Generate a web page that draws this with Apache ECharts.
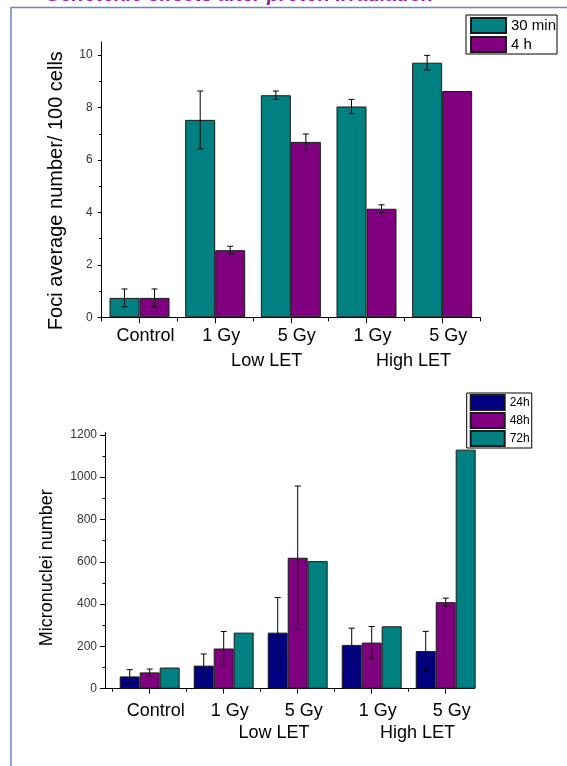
<!DOCTYPE html>
<html><head><meta charset="utf-8">
<script src="https://cdn.jsdelivr.net/npm/echarts@6/dist/echarts.min.js"></script>
<style>html,body{margin:0;padding:0;background:#fff}#c{width:567px;height:766px}</style>
</head><body><div id="c"></div>
<script>
// ---------- data ----------
const titleText = 'Genotoxic effects after proton irradiation';
const categories = ['Control', '1 Gy', '5 Gy', '1 Gy', '5 Gy'];
const groupLabels = ['Low LET', 'High LET'];

const fociTitle = 'Foci average number/ 100 cells';
const fociNames = ['30 min', '4 h'];
const foci30min = [0.74, 7.53, 8.47, 8.04, 9.71];
const foci30minErr = [0.34, 1.10, 0.16, 0.27, 0.28];
const foci4h = [0.74, 2.56, 6.69, 4.14, 8.63];
const foci4hErr = [0.34, 0.15, 0.30, 0.15, null];
const fociTicks = [0, 2, 4, 6, 8, 10];
const fociMinorTicks = [1, 3, 5, 7, 9];

const mnTitle = 'Micronuclei number';
const mnNames = ['24h', '48h', '72h'];
const mn24h = [58, 109, 265, 207, 178];
const mn24hErr = [32, 55, 166, 79, 93];
const mn48h = [77, 190, 619, 218, 409];
const mn48hErr = [16, 80, 339, 76, 19];
const mn72h = [100, 265, 603, 295, 1130];
const mnTicks = [0, 200, 400, 600, 800, 1000, 1200];
const mnMinorTicks = [100, 300, 500, 700, 900, 1100];

// ---------- layout / style ----------
const TEAL = '#008080', PURPLE = '#800080', NAVY = '#000080';
const FONT = '"Liberation Sans", Arial, sans-serif';
const G1 = {left: 101.7, top: 42, width: 378.3, height: 275.3};
const G2 = {left: 112.7, top: 432.7, width: 370, height: 256};
const G2F = {left: 105, top: 432.7, width: 369, height: 256};
const TOP_GAP = 0.207, BOT_GAP = 0.19;
const groupLabelPos = [2.18, 4.12];

const chart = echarts.init(document.getElementById('c'), null, {renderer: 'canvas'});

function errRender(nSeries, gapFrac, capW) {
  return function (params, api) {
    const i = api.value(0), v = api.value(1), e = api.value(2), s = api.value(3);
    const band = api.size([1, 0])[0];
    const barW = band * (1 - gapFrac) / nSeries;
    const c = api.coord([i, v]);
    const x = c[0] + (s - (nSeries - 1) / 2) * barW;
    const yHi = api.coord([i, v + e])[1];
    const yLo = api.coord([i, v - e])[1];
    const st = {stroke: '#000', lineWidth: 1};
    return {type: 'group', children: [
      {type: 'line', shape: {x1: x, y1: yHi, x2: x, y2: yLo}, style: st},
      {type: 'line', shape: {x1: x - capW / 2, y1: yHi, x2: x + capW / 2, y2: yHi}, style: st},
      {type: 'line', shape: {x1: x - capW / 2, y1: yLo, x2: x + capW / 2, y2: yLo}, style: st}
    ]};
  };
}
function errData(vals, errs, s) {
  const out = [];
  vals.forEach((v, i) => { if (errs[i] != null) out.push([i, v, errs[i], s]); });
  return out;
}
const barStyle = c => ({color: c, borderColor: '#1a1a1a', borderWidth: 1});

const lineBlack = {show: true, lineStyle: {color: '#000', width: 1}};
const noSplit = {show: false};
const plain = v => String(v);

const option = {
  animation: false,
  grid: [
    Object.assign({outerBoundsMode: 'none', containLabel: false}, G1),
    Object.assign({outerBoundsMode: 'none', containLabel: false}, G2),
    Object.assign({outerBoundsMode: 'none', containLabel: false}, G2F)
  ],
  xAxis: [
    {type: 'category', gridIndex: 0, position: 'bottom', data: categories, axisLine: lineBlack,
     axisTick: {show: true, alignWithLabel: true, length: 6, lineStyle: {color: '#000'}},
     axisLabel: {fontSize: 18, fontFamily: FONT, color: '#000', margin: 10, lineHeight: 18, padding: [0, 0, 0, 12], interval: 0},
     splitLine: noSplit},
    {type: 'category', gridIndex: 0, position: 'bottom', data: categories, axisLine: {show: false},
     axisTick: {show: true, length: 4, lineStyle: {color: '#000'}}, axisLabel: {show: false}, splitLine: noSplit},
    {type: 'category', gridIndex: 1, position: 'bottom', data: categories, axisLine: {show: false},
     axisTick: {show: true, alignWithLabel: true, length: 5, lineStyle: {color: '#000'}},
     axisLabel: {fontSize: 18, fontFamily: FONT, color: '#000', margin: 13, lineHeight: 18, padding: [0, 0, 0, 12], interval: 0},
     splitLine: noSplit},
    {type: 'value', gridIndex: 1, position: 'bottom', min: 0, max: categories.length, axisLine: {show: false},
     axisTick: {show: true, length: 3, customValues: categories.map((c, i) => i), lineStyle: {color: '#000'}},
     axisLabel: {show: false}, splitLine: noSplit},
    {type: 'value', gridIndex: 2, position: 'bottom', min: 0, max: 1, axisLine: lineBlack,
     axisTick: {show: false}, axisLabel: {show: false}, splitLine: noSplit}
  ],
  yAxis: [
    {type: 'value', gridIndex: 0, position: 'left', min: 0, max: 10.5, axisLine: lineBlack,
     axisTick: {show: true, length: 4, customValues: fociTicks, lineStyle: {color: '#000'}},
     axisLabel: {fontSize: 12, fontFamily: FONT, color: '#333', margin: 9, customValues: fociTicks, formatter: plain},
     splitLine: noSplit,
     name: fociTitle, nameLocation: 'middle', nameGap: 35,
     nameTextStyle: {fontSize: 20, fontFamily: FONT, color: '#000', padding: [0, 22, 0, 0]}},
    {type: 'value', gridIndex: 0, position: 'left', min: 0, max: 10.5, axisLine: {show: false},
     axisTick: {show: true, length: 2.5, customValues: fociMinorTicks, lineStyle: {color: '#000'}},
     axisLabel: {show: false}, splitLine: noSplit},
    {type: 'value', gridIndex: 1, position: 'left', min: 0, max: 1210, show: false, splitLine: noSplit},
    {type: 'value', gridIndex: 2, position: 'left', min: 0, max: 1210, axisLine: lineBlack,
     axisTick: {show: true, length: 5, customValues: mnTicks, lineStyle: {color: '#000'}},
     axisLabel: {fontSize: 12, fontFamily: FONT, color: '#333', margin: 8, customValues: mnTicks, formatter: plain},
     splitLine: noSplit,
     name: mnTitle, nameLocation: 'middle', nameGap: 49,
     nameTextStyle: {fontSize: 18, fontFamily: FONT, color: '#000', padding: [0, 14, 0, 0]}},
    {type: 'value', gridIndex: 2, position: 'left', min: 0, max: 1210, axisLine: {show: false},
     axisTick: {show: true, length: 2.5, customValues: mnMinorTicks, lineStyle: {color: '#000'}},
     axisLabel: {show: false}, splitLine: noSplit}
  ],
  legend: [
    {data: fociNames, orient: 'vertical', left: 466, top: 15, icon: 'rect',
     itemWidth: 35, itemHeight: 15, itemGap: 2, padding: [2, 1, 1, 4],
     borderColor: '#000', borderWidth: 1, backgroundColor: '#fff', selectedMode: false,
     textStyle: {fontSize: 15, fontFamily: FONT, color: '#000', lineHeight: 15}},
    {data: mnNames, orient: 'vertical', left: 466.7, top: 393, icon: 'rect',
     itemWidth: 34, itemHeight: 15, itemGap: 1, padding: [1, 2, 1, 3],
     borderColor: '#000', borderWidth: 1, backgroundColor: '#fff', selectedMode: false,
     textStyle: {fontSize: 12, fontFamily: FONT, color: '#000', lineHeight: 15}}
  ],
  series: [
    {name: fociNames[0], type: 'bar', xAxisIndex: 0, yAxisIndex: 0, data: foci30min,
     barGap: '0%', barCategoryGap: (TOP_GAP * 100) + '%', itemStyle: barStyle(TEAL), emphasis: {disabled: true}},
    {name: fociNames[1], type: 'bar', xAxisIndex: 0, yAxisIndex: 0, data: foci4h,
     barGap: '0%', barCategoryGap: (TOP_GAP * 100) + '%', itemStyle: barStyle(PURPLE), emphasis: {disabled: true}},
    {type: 'custom', xAxisIndex: 0, yAxisIndex: 0, z: 5, renderItem: errRender(2, TOP_GAP, 6),
     encode: {x: 0, y: 1}, data: errData(foci30min, foci30minErr, 0).concat(errData(foci4h, foci4hErr, 1))},

    {name: mnNames[0], type: 'bar', xAxisIndex: 2, yAxisIndex: 2, data: mn24h,
     barGap: '0%', barCategoryGap: (BOT_GAP * 100) + '%', itemStyle: barStyle(NAVY), emphasis: {disabled: true}},
    {name: mnNames[1], type: 'bar', xAxisIndex: 2, yAxisIndex: 2, data: mn48h,
     barGap: '0%', barCategoryGap: (BOT_GAP * 100) + '%', itemStyle: barStyle(PURPLE), emphasis: {disabled: true}},
    {name: mnNames[2], type: 'bar', xAxisIndex: 2, yAxisIndex: 2, data: mn72h,
     barGap: '0%', barCategoryGap: (BOT_GAP * 100) + '%', itemStyle: barStyle(TEAL), emphasis: {disabled: true}},
    {type: 'custom', xAxisIndex: 2, yAxisIndex: 2, z: 5, renderItem: errRender(3, BOT_GAP, 6),
     encode: {x: 0, y: 1}, data: errData(mn24h, mn24hErr, 0).concat(errData(mn48h, mn48hErr, 1))}
  ],
  graphic: [
    {type: 'polyline', silent: true, shape: {points: [[11, 766], [11, 7.5], [567, 7.5]]},
     style: {stroke: '#6a86bf', lineWidth: 1.5, fill: null}},
    {type: 'text', silent: true, x: 45, y: -5,
     style: {text: titleText, font: 'italic bold 20px ' + FONT, fill: '#a0199f', verticalAlign: 'middle', align: 'left'}}
  ].concat(groupLabels.map((t, k) => ({
    type: 'text', silent: true,
    x: G1.left + G1.width / categories.length * groupLabelPos[k], y: G1.top + G1.height + 44,
    style: {text: t, font: '18px ' + FONT, fill: '#000', align: 'center', verticalAlign: 'middle'}
  }))).concat(groupLabels.map((t, k) => ({
    type: 'text', silent: true,
    x: G2.left + G2.width / categories.length * groupLabelPos[k], y: G2.top + G2.height + 44,
    style: {text: t, font: '18px ' + FONT, fill: '#000', align: 'center', verticalAlign: 'middle'}
  })))
};
chart.setOption(option);
</script>
</body></html>
